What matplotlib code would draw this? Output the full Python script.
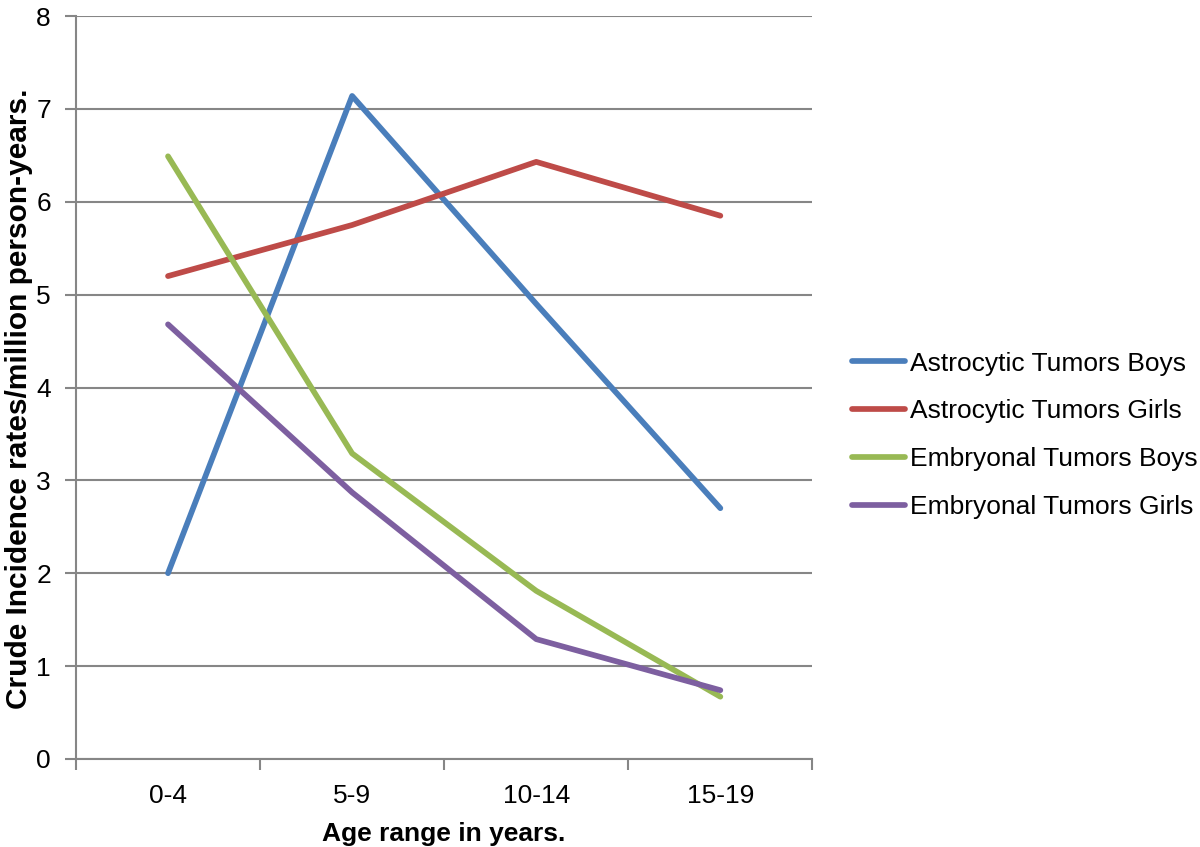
import matplotlib
matplotlib.use("Agg")
import matplotlib.pyplot as plt
from matplotlib.ticker import FixedLocator

categories = ["0-4", "5-9", "10-14", "15-19"]
astro_boys = [2.0, 7.14, 4.9, 2.70]
astro_girls = [5.20, 5.75, 6.43, 5.85]
embry_boys = [6.49, 3.29, 1.81, 0.67]
embry_girls = [4.68, 2.87, 1.29, 0.74]
series_names = ["Astrocytic Tumors Boys", "Astrocytic Tumors Girls",
                "Embryonal Tumors Boys", "Embryonal Tumors Girls"]
colors = ["#4A7EBB", "#BE4B48", "#98B954", "#7D5FA0"]

plt.rcParams['font.family'] = ['Liberation Sans', 'DejaVu Sans']

fig = plt.figure(figsize=(12, 8.47), dpi=100)
ax = fig.add_axes([0.0633, 0.104, 0.6137, 0.877])

x = list(range(len(categories)))
for vals, name, c in zip([astro_boys, astro_girls, embry_boys, embry_girls], series_names, colors):
    ax.plot(x, vals, color=c, lw=4.1, label=name, solid_capstyle='round', solid_joinstyle='round', zorder=3)

ax.set_xlim(-0.5, len(categories) - 0.5)
ax.set_ylim(0, 8)
ax.set_yticks(range(0, 9))
ax.yaxis.grid(True, color="#868686", lw=1.5, zorder=0)
ax.set_axisbelow(True)

ax.set_xticks(x)
ax.set_xticklabels(categories, fontsize=19)
ax.tick_params(axis='x', which='major', length=0, pad=18)
ax.xaxis.set_minor_locator(FixedLocator([-0.5, 0.5, 1.5, 2.5, 3.5]))
ax.tick_params(axis='x', which='minor', length=8, width=1.5, color="#868686", direction='out')
ax.tick_params(axis='y', length=8, width=1.5, color="#868686", direction='out', labelsize=19, pad=10)

for s in ['top', 'right']:
    ax.spines[s].set_visible(False)
for s in ['left', 'bottom']:
    ax.spines[s].set_color("#868686")
    ax.spines[s].set_linewidth(1.5)

ax.set_xlabel("Age range in years.", fontsize=19, fontweight='bold', labelpad=10)
ax.set_ylabel("Crude Incidence rates/million person-years.", fontsize=21.5, fontweight='bold',
              fontstretch='condensed')
ax.yaxis.set_label_coords(-0.0585, 0.485)

leg = fig.legend(loc='center left', bbox_to_anchor=(0.69, 0.486), frameon=False, fontsize=19,
                 handlelength=2.0, handletextpad=0.2, labelspacing=0.9)

fig.savefig("out.png", dpi=100)
